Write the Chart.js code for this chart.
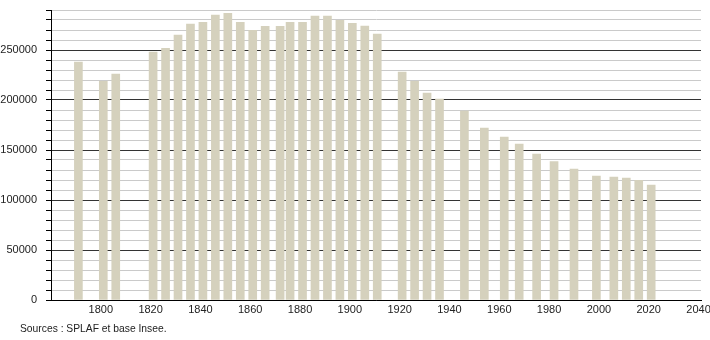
<!DOCTYPE html>
<html>
<head>
<meta charset="utf-8">
<script src="https://cdn.jsdelivr.net/npm/chart.js@4"></script>
<style>
  body { margin: 0; background: #fff; }
  #wrap { position: relative; width: 710px; height: 340px; }
  #source { position: absolute; left: 20px; top: 323px; font: 10.3px "Liberation Sans", Arial, sans-serif; color: #222; }
</style>
</head>
<body>
<div id="wrap">
  <canvas id="popChart"></canvas>
  <div id="source">Sources : SPLAF et base Insee.</div>
</div>
<script>
// census years and population
const years = [1791, 1801, 1806, 1821, 1826, 1831, 1836, 1841, 1846, 1851, 1856, 1861, 1866, 1872, 1876,
  1881, 1886, 1891, 1896, 1901, 1906, 1911, 1921, 1926, 1931, 1936, 1946, 1954, 1962, 1968, 1975,
  1982, 1990, 1999, 2006, 2011, 2016, 2021];
const population = [238000, 218700, 226000, 248000, 251700, 265000, 276000, 277700, 285000, 286700, 277700,
  269700, 273700, 273700, 277700, 277700, 284000, 284000, 279700, 276700, 274000, 266000, 228000, 218700,
  207000, 201000, 189000, 172000, 163000, 156000, 146000, 138300, 131000, 124000, 123000, 122000, 119700, 115000];
const xTicks = [1800, 1820, 1840, 1860, 1880, 1900, 1920, 1940, 1960, 1980, 2000, 2020, 2040];
const yTicks = [0, 10000, 20000, 30000, 40000, 50000, 60000, 70000, 80000, 90000, 100000, 110000, 120000,
  130000, 140000, 150000, 160000, 170000, 180000, 190000, 200000, 210000, 220000, 230000, 240000, 250000,
  260000, 270000, 280000, 290000];

const font = { family: '"Liberation Sans", Arial, sans-serif', size: 11 };

new Chart(document.getElementById('popChart'), {
  type: 'bar',
  data: {
    datasets: [{
      data: years.map(function(y, i) { return { x: y, y: population[i] }; }),
      backgroundColor: '#d5d1bd',
      barThickness: 8
    }]
  },
  options: {
    responsive: true,
    maintainAspectRatio: false,
    animation: false,
    layout: { padding: { left: 0, right: 9, top: 10, bottom: 20 } },
    plugins: { legend: { display: false }, tooltip: { enabled: false } },
    scales: {
      x: {
        type: 'linear',
        offset: false,
        min: 1780,
        max: 2041,
        afterBuildTicks: function(scale) { scale.ticks = xTicks.map(function(v) { return { value: v }; }); },
        afterFit: function(scale) { scale.height = 20; scale.paddingLeft = 0; scale.paddingRight = 0; },
        grid: { display: false, drawTicks: false, tickLength: 0, offset: false },
        border: { display: true, color: '#000', width: 1 },
        ticks: { font: font, color: '#222', padding: 3, maxRotation: 0, autoSkip: false,
          callback: function(v) { return String(v); } }
      },
      y: {
        min: 0,
        max: 290000,
        afterBuildTicks: function(scale) { scale.ticks = yTicks.map(function(v) { return { value: v }; }); },
        afterFit: function(scale) { scale.width = 51; scale.paddingTop = 0; scale.paddingBottom = 0; },
        grid: {
          color: function(ctx) { return ctx.tick && ctx.tick.value % 50000 === 0 ? '#333' : '#cacaca'; },
          tickColor: '#000',
          tickLength: 5
        },
        border: { display: true, color: '#000', width: 1 },
        ticks: { font: font, color: '#222', padding: 9, autoSkip: false,
          callback: function(v) { return v % 50000 === 0 ? String(v) : ''; } }
      }
    }
  }
});
</script>
</body>
</html>
